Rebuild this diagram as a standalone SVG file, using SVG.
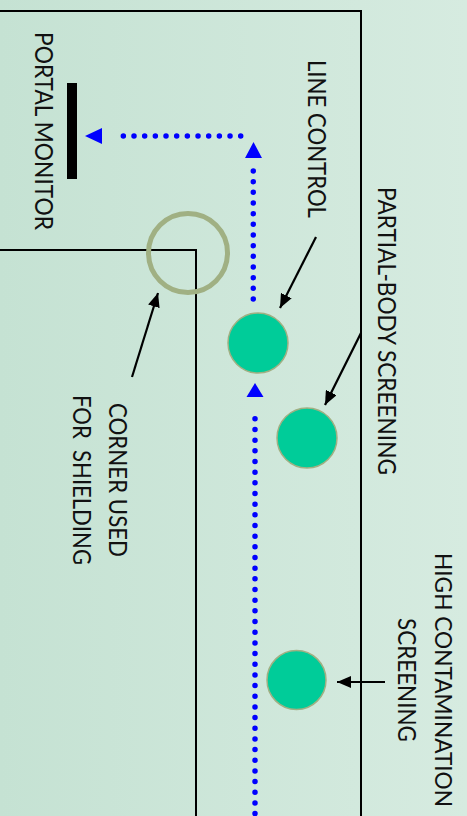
<svg xmlns="http://www.w3.org/2000/svg" width="467" height="816" viewBox="0 0 467 816">
<defs>
<linearGradient id="bg" x1="0" y1="0" x2="1" y2="0">
<stop offset="0" stop-color="#c5e2d3"/>
<stop offset="1" stop-color="#d6ebe0"/>
</linearGradient>
<marker id="ah" viewBox="0 0 14 12" refX="14" refY="6" markerWidth="14" markerHeight="12" markerUnits="userSpaceOnUse" orient="auto">
<path d="M0,0 L14,6 L0,12 Z" fill="#000"/>
</marker>
</defs>
<style>
.wall{stroke:#000;stroke-width:2;fill:none}
.lbl{font-family:Lato,"Open Sans",sans-serif;font-size:25px;fill:#111}
.ptr{stroke:#000;stroke-width:2.2;fill:none;marker-end:url(#ah)}
.flow{stroke:#0000ff;stroke-width:5.5;stroke-linecap:round;stroke-dasharray:0 10.67;fill:none}
.station{fill:#00cc99;stroke:#a0b083;stroke-width:1.5}
</style>
<rect width="467" height="816" fill="url(#bg)"/>
<g id="walls">
<path class="wall" d="M0,11 H361 V816"/>
<path class="wall" d="M0,250 H196 V816"/>
</g>
<g id="portal-monitor">
<rect x="67" y="83" width="10" height="96" fill="#000"/>
<text class="lbl" transform="translate(35,32) rotate(90)" textLength="198" lengthAdjust="spacingAndGlyphs">PORTAL MONITOR</text>
</g>
<g id="shielding-corner">
<circle cx="188" cy="253" r="39.5" fill="none" stroke="#a0b083" stroke-width="5"/>
<text class="lbl" transform="translate(109,403) rotate(90)" textLength="154" lengthAdjust="spacingAndGlyphs">CORNER USED</text>
<text class="lbl" transform="translate(73,395) rotate(90)" textLength="170" lengthAdjust="spacingAndGlyphs" xml:space="preserve">FOR  SHIELDING</text>
</g>
<g id="line-control">
<circle class="station" cx="258" cy="343" r="30"/>
<text class="lbl" transform="translate(308,60) rotate(90)" textLength="158" lengthAdjust="spacingAndGlyphs">LINE CONTROL</text>
</g>
<g id="partial-body">
<circle class="station" cx="307" cy="438" r="30"/>
<text class="lbl" transform="translate(378,187) rotate(90)" textLength="288" lengthAdjust="spacingAndGlyphs">PARTIAL-BODY SCREENING</text>
</g>
<g id="high-contamination">
<circle class="station" cx="296.5" cy="680" r="29.5"/>
<text class="lbl" style="font-size:24px" transform="translate(435,553) rotate(90)" textLength="254" lengthAdjust="spacingAndGlyphs">HIGH CONTAMINATION</text>
<text class="lbl" transform="translate(398,618) rotate(90)" textLength="124" lengthAdjust="spacingAndGlyphs">SCREENING</text>
</g>
<g id="connectors">
<path class="ptr" d="M316,237 L280,308"/>
<path class="ptr" d="M361,333 L325,405"/>
<path class="ptr" d="M132,377 L158,293"/>
<path class="ptr" d="M385,682 L337,682"/>
<path class="flow" d="M255,813.6 V408.3"/>
<path d="M246.5,397 L255,383 L263.5,397 Z" fill="#0000ff"/>
<path class="flow" d="M253.3,299 V161"/>
<path d="M245,158 L253.5,142 L262,158 Z" fill="#0000ff"/>
<path class="flow" d="M240.7,136 H112.7"/>
<path d="M102,128 L85,136 L102,144 Z" fill="#0000ff"/>
</g>
</svg>
